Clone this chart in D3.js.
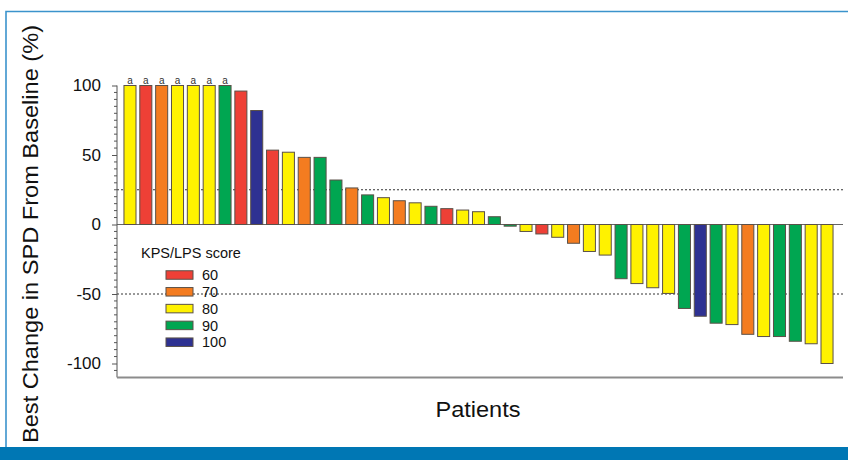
<!DOCTYPE html>
<html>
<head>
<meta charset="utf-8">
<script src="https://cdn.jsdelivr.net/npm/d3@7"></script>
<style>
  html, body { margin: 0; padding: 0; background: #fff; }
  svg { display: block; }
</style>
</head>
<body>
<svg id="chart" width="848" height="460"></svg>
<script>
// ---- Data ----
const patients = d3.range(1, 46).map(i => "P" + i);
const bestChange = [
  100, 100, 100, 100, 100, 100, 100, 96, 82, 53.5,
  52, 48.3, 48.3, 32, 26.3, 21.3, 19.3, 17.1, 15.6, 13.1,
  11.4, 10.4, 9.2, 5.6, -1.2, -5, -6.8, -9.2, -13.5, -19.4,
  -22, -39, -42.5, -45.5, -49.6, -60.4, -66, -71, -72, -79,
  -80.6, -80.6, -84, -85.8, -100
];
const kpsScore = [
  80, 60, 70, 80, 80, 80, 90, 60, 100, 60,
  80, 70, 90, 90, 70, 90, 80, 70, 80, 90,
  60, 80, 80, 90, 90, 80, 60, 80, 70, 80,
  80, 90, 80, 80, 80, 90, 100, 90, 80, 70,
  80, 90, 90, 80, 80
];
const capped = [true, true, true, true, true, true, true];   // first seven marked "a"
const scoreLevels = [60, 70, 80, 90, 100];
const scoreColors = ["#ee4036", "#f47c20", "#fff200", "#00a651", "#2e3192"];
const yTicks = [100, 50, 0, -50, -100];
const yTickLabels = ["100", "50", "0", "-50", "-100"];
const refLines = [25, -50];

// ---- Layout ----
const svg = d3.select("#chart");
const plotL = 117, plotR = 843, plotT = 85.5, plotB = 377.4;

const x = d3.scaleBand().domain(patients).range([120, 837]).paddingInner(0.24).paddingOuter(0.25);
const y = d3.scaleLinear().domain([-110, 100]).range([plotB, plotT]);
const color = d3.scaleOrdinal().domain(scoreLevels).range(scoreColors);

// Frame
svg.append("rect").attr("x", 0).attr("y", 0).attr("width", 848).attr("height", 460).attr("fill", "#fff");
svg.append("path").attr("d", "M6,447 V11.5 H848").attr("fill", "none").attr("stroke", "#3b93cc").attr("stroke-width", 1.6);
svg.append("rect").attr("x", 0).attr("y", 447).attr("width", 848).attr("height", 13).attr("fill", "#0077b4");

// Reference dotted lines
svg.selectAll("line.ref").data(refLines).join("line")
  .attr("class", "ref")
  .attr("x1", plotL).attr("x2", plotR)
  .attr("y1", d => y(d)).attr("y2", d => y(d))
  .attr("stroke", "#333").attr("stroke-width", 1).attr("stroke-dasharray", "2,2");

// Zero line
svg.append("line").attr("x1", plotL).attr("x2", plotR).attr("y1", y(0)).attr("y2", y(0))
  .attr("stroke", "#666").attr("stroke-width", 1);

// Bars
const data = patients.map((p, i) => ({ p, v: bestChange[i], s: kpsScore[i], a: !!capped[i] }));
svg.selectAll("rect.bar").data(data).join("rect")
  .attr("class", "bar")
  .attr("x", d => x(d.p))
  .attr("width", x.bandwidth())
  .attr("y", d => y(Math.max(0, d.v)))
  .attr("height", d => Math.abs(y(d.v) - y(0)))
  .attr("fill", d => color(d.s))
  .attr("stroke", "#5a5048").attr("stroke-width", 1);

// "a" markers
svg.selectAll("text.amark").data(data.filter(d => d.a)).join("text")
  .attr("class", "amark")
  .attr("x", d => x(d.p) + x.bandwidth() / 2)
  .attr("y", d => y(d.v) - 1.5)
  .attr("text-anchor", "middle")
  .attr("font-family", "Liberation Sans, Arial, sans-serif")
  .attr("font-size", 10)
  .attr("fill", "#333")
  .text("a");

// Y axis
const yAxis = d3.axisLeft(y).tickValues(yTicks).tickSize(5).tickPadding(11)
  .tickFormat((d, i) => yTickLabels[i]);
const gy = svg.append("g").attr("transform", `translate(${plotL},0)`).call(yAxis);
gy.select(".domain").remove();
gy.selectAll(".tick line").attr("stroke", "#555");
gy.selectAll(".tick text").attr("font-family", "Liberation Sans, Arial, sans-serif").attr("font-size", 17).attr("fill", "#111");
// minor ticks
const minor = d3.range(-105, 101, 5).filter(v => !yTicks.includes(v));
svg.append("g").selectAll("line").data(minor).join("line")
  .attr("x1", plotL - 3).attr("x2", plotL)
  .attr("y1", d => y(d)).attr("y2", d => y(d))
  .attr("stroke", "#555").attr("stroke-width", 1);
svg.append("line").attr("x1", plotL).attr("x2", plotL).attr("y1", plotT).attr("y2", plotB)
  .attr("stroke", "#555").attr("stroke-width", 1);

// X axis baseline
svg.append("line").attr("x1", plotL).attr("x2", plotR).attr("y1", plotB).attr("y2", plotB)
  .attr("stroke", "#8c8c8c").attr("stroke-width", 2);

// Axis titles
svg.append("text")
  .attr("transform", "translate(38,234) rotate(-90)")
  .attr("text-anchor", "middle")
  .attr("font-family", "Liberation Sans, Arial, sans-serif")
  .attr("font-size", 21.5)
  .attr("textLength", 418).attr("lengthAdjust", "spacingAndGlyphs")
  .attr("fill", "#111")
  .text("Best Change in SPD From Baseline (%)");

svg.append("text")
  .attr("x", 478).attr("y", 417)
  .attr("text-anchor", "middle")
  .attr("font-family", "Liberation Sans, Arial, sans-serif")
  .attr("font-size", 22)
  .attr("textLength", 85).attr("lengthAdjust", "spacingAndGlyphs")
  .attr("fill", "#111")
  .text("Patients");

// Legend
const lg = svg.append("g");
lg.append("text").attr("x", 141).attr("y", 258)
  .attr("font-family", "Liberation Sans, Arial, sans-serif").attr("font-size", 14.5).attr("fill", "#111")
  .text("KPS/LPS score");
const rows = lg.selectAll("g.row").data(scoreLevels).join("g")
  .attr("class", "row")
  .attr("transform", (d, i) => `translate(0,${275 + i * 16.8})`);
rows.append("rect").attr("x", 166).attr("y", -4.25).attr("width", 27).attr("height", 8.5)
  .attr("fill", d => color(d)).attr("stroke", "#5a5048").attr("stroke-width", 1);
rows.append("text").attr("x", 202).attr("y", 5.2)
  .attr("font-family", "Liberation Sans, Arial, sans-serif").attr("font-size", 14.5).attr("fill", "#111")
  .text(d => d);
</script>
</body>
</html>
